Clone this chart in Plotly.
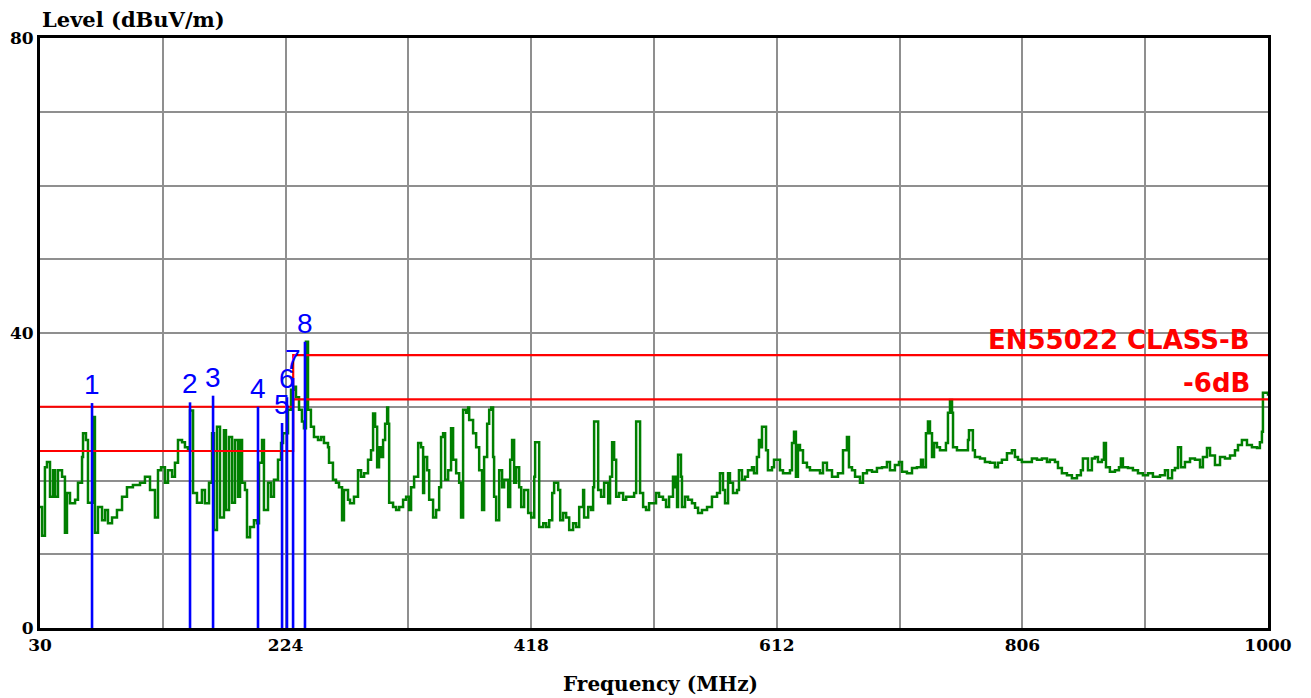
import plotly.graph_objects as go

# ---- data ----
freq_mhz = [30.0, 31.6, 33.9, 35.5, 37.9, 40.3, 41.9, 44.2, 47.4, 49.7, 51.3, 53.7, 57.7, 60.0, 63.2, 64.0, 66.3, 67.9,
            71.9, 73.4, 75.8, 79.0, 81.4, 83.7, 86.9, 90.8, 94.8, 98.7, 103.4, 109.0, 112.9, 116.9, 120.8, 123.2, 125.6,
            128.7, 131.1, 134.3, 136.6, 139.0, 142.2, 144.5, 146.9, 148.5, 150.9, 154.0, 157.9, 160.3, 163.5, 165.9,
            167.4, 169.8, 172.2, 175.3, 176.9, 179.3, 181.7, 184.0, 186.4, 188.0, 189.6, 191.9, 193.5, 195.9, 199.0,
            201.4, 203.0, 205.4, 206.9, 210.1, 212.5, 214.8, 218.0, 220.4, 222.0, 225.9, 228.3, 230.6, 232.2, 234.6,
            236.9, 238.5, 240.1, 241.7, 244.0, 246.4, 249.6, 252.0, 254.3, 257.5, 258.3, 261.4, 263.8, 266.2, 268.6,
            270.1, 273.3, 274.9, 278.0, 281.2, 283.6, 286.0, 289.1, 291.5, 293.1, 294.7, 296.3, 297.8, 299.4, 301.0,
            302.6, 304.2, 305.0, 305.8, 308.9, 311.3, 313.7, 316.8, 319.2, 321.6, 323.1, 325.5, 328.7, 331.0, 332.6,
            333.4, 335.8, 337.4, 340.5, 342.9, 345.3, 346.8, 348.4, 350.0, 352.4, 354.7, 356.3, 358.7, 361.1, 362.6,
            364.2, 366.6, 368.2, 369.0, 372.1, 374.5, 376.9, 379.2, 380.8, 383.2, 384.8, 386.4, 387.9, 388.7, 390.3,
            392.7, 395.0, 396.6, 399.8, 401.4, 402.9, 404.5, 406.1, 408.5, 410.1, 412.4, 415.6, 418.0, 420.4, 421.1,
            423.5, 424.3, 427.5, 429.8, 432.2, 434.6, 436.1, 439.3, 440.9, 443.2, 445.6, 448.0, 451.1, 453.5, 455.9,
            459.0, 459.8, 463.0, 465.3, 466.9, 467.7, 470.1, 470.9, 473.2, 475.6, 478.8, 480.3, 481.9, 483.5, 485.1,
            487.4, 490.6, 493.0, 496.9, 499.3, 500.9, 503.2, 504.0, 506.4, 508.7, 511.1, 514.3, 516.6, 519.0, 522.1,
            524.5, 526.9, 530.0, 531.6, 532.4, 533.2, 534.0, 536.3, 537.1, 539.5, 541.9, 545.0, 547.4, 549.8, 552.9,
            556.9, 560.8, 564.8, 567.1, 569.5, 571.1, 573.5, 575.0, 577.4, 580.6, 582.1, 584.5, 586.9, 589.2, 592.4,
            594.0, 596.3, 597.9, 599.5, 600.3, 602.7, 603.5, 605.0, 608.2, 609.8, 612.1, 614.5, 616.9, 620.0, 622.4,
            624.0, 625.6, 627.1, 628.7, 630.3, 632.7, 635.8, 638.2, 642.1, 646.1, 648.5, 651.6, 655.6, 658.0, 660.3,
            663.5, 664.3, 666.6, 667.4, 669.0, 671.4, 673.8, 677.7, 680.1, 683.2, 687.2, 691.1, 695.1, 699.0, 701.4,
            705.3, 708.5, 710.9, 714.8, 718.8, 722.7, 725.9, 727.5, 729.8, 731.4, 733.0, 734.6, 736.2, 738.5, 740.9,
            743.3, 745.6, 747.2, 748.8, 750.4, 751.2, 754.3, 758.3, 761.4, 763.0, 763.8, 766.2, 766.9, 768.5, 772.5,
            776.4, 780.4, 784.3, 786.7, 789.8, 793.8, 797.7, 800.1, 802.5, 805.6, 809.6, 813.5, 817.5, 821.4, 825.4,
            827.7, 831.7, 834.1, 837.2, 841.2, 845.1, 849.1, 852.2, 853.8, 856.2, 857.8, 860.9, 863.3, 865.7, 868.8,
            870.4, 872.0, 875.1, 879.1, 882.3, 883.8, 885.4, 889.4, 893.3, 897.3, 901.2, 905.2, 909.1, 913.1, 914.7,
            918.6, 921.0, 924.2, 926.5, 928.9, 931.3, 934.4, 938.4, 942.3, 946.3, 948.6, 951.8, 954.2, 958.1, 962.1,
            966.0, 970.0, 973.9, 976.3, 979.4, 983.4, 987.3, 991.3, 993.6, 995.2, 996.0, 997.6, 1000.0]
level_dbuv = [16.4, 12.5, 21.8, 22.5, 17.8, 21.4, 17.8, 21.4, 20.5, 12.9, 18.3, 16.9, 17.4, 19.7, 23.2, 26.4, 25.5, 17.0,
              28.6, 12.9, 16.4, 14.6, 16.0, 14.2, 15.0, 16.0, 17.8, 19.1, 19.4, 19.7, 20.5, 18.7, 15.0, 21.4, 21.8,
              19.7, 21.4, 20.5, 22.4, 25.5, 25.2, 24.5, 24.1, 29.5, 18.3, 17.0, 18.7, 16.9, 19.7, 26.4,
              13.3, 27.3, 15.0, 26.8, 16.0, 25.9, 17.0, 25.5, 17.8, 25.5, 19.7, 18.7, 12.3, 13.7, 14.6,
              14.2, 22.4, 25.5, 16.0, 19.7, 17.8, 20.1, 22.8, 25.1, 26.4, 29.6, 32.3, 32.7, 31.3, 29.6,
              28.0, 27.1, 38.8, 29.6, 27.3, 25.9, 25.5, 25.9, 25.1, 24.5, 22.4, 20.1, 19.7, 19.1, 14.6,
              18.7, 17.4, 16.9, 17.8, 21.4, 20.5, 21.0, 22.8, 24.1, 29.1, 27.3, 21.8, 24.5, 23.2, 25.5,
              27.7, 29.9, 27.7, 17.0, 16.4, 16.0, 16.4, 17.4, 17.8, 16.0, 19.1, 20.5, 25.1, 24.5, 18.3,
              23.2, 21.4, 17.4, 15.0, 16.0, 19.1, 25.9, 26.4, 20.1, 21.4, 27.1, 22.8, 21.0, 19.7, 15.0,
              29.6, 29.2, 29.9, 28.2, 26.4, 24.5, 21.4, 16.0, 23.2, 27.7, 29.6, 29.9, 23.2, 17.8, 14.6,
              21.4, 19.1, 20.1, 16.4, 22.8, 25.5, 19.7, 21.8, 19.1, 16.4, 18.7, 15.6, 15.0, 20.5, 25.2,
              25.2, 13.7, 14.2, 13.7, 14.6, 18.3, 19.7, 18.7, 14.6, 15.6, 15.0, 13.3, 14.2, 13.7, 16.4,
              18.7, 15.0, 16.4, 16.0, 19.1, 28.0, 28.0, 18.7, 17.8, 19.7, 16.9, 20.5, 25.2, 22.8, 17.8,
              18.3, 17.4, 17.8, 17.8, 18.3, 28.0, 28.0, 18.3, 16.4, 16.0, 16.9, 16.9, 18.3, 17.8, 17.4,
              16.4, 17.8, 20.5, 19.1, 20.5, 16.4, 23.5, 20.5, 16.4, 17.8, 17.4, 16.9, 16.3, 15.6, 16.0,
              16.4, 17.8, 18.3, 21.0, 18.7, 16.9, 21.0, 19.7, 18.3, 18.7, 21.4, 20.1, 20.5, 21.4, 21.8,
              21.0, 23.2, 25.5, 24.5, 27.3, 27.3, 24.1, 21.4, 21.8, 22.8, 22.8, 21.4, 21.0, 21.0, 21.4,
              25.1, 26.6, 20.5, 24.8, 24.1, 22.4, 21.8, 21.4, 21.4, 21.0, 22.4, 21.4, 20.5, 20.5, 21.0,
              21.0, 24.1, 24.1, 25.9, 21.8, 21.4, 20.5, 19.7, 21.0, 21.4, 21.2, 21.7, 21.8, 22.5, 21.4,
              22.1, 22.5, 21.2, 21.0, 21.7, 21.8, 22.8, 21.8, 26.4, 28.0, 26.4, 23.2, 25.1, 24.5, 24.1,
              24.1, 25.1, 29.2, 30.9, 29.2, 24.5, 24.1, 24.1, 24.1, 25.5, 26.8, 26.8, 24.1, 23.2, 23.0,
              22.5, 22.4, 21.8, 22.4, 22.8, 23.7, 24.1, 23.2, 22.8, 22.5, 22.5, 23.0, 22.8, 23.0, 22.5,
              22.8, 22.5, 21.7, 21.0, 20.7, 20.3, 20.7, 21.4, 23.0, 23.0, 21.4, 23.0, 23.2, 22.5, 22.8,
              25.1, 21.8, 21.2, 21.4, 21.8, 23.0, 21.8, 21.7, 21.4, 21.0, 20.7, 21.0, 20.5, 20.5, 20.7,
              21.4, 20.3, 21.4, 21.7, 24.5, 21.8, 22.5, 23.0, 22.8, 21.8, 23.2, 24.4, 23.4, 22.1, 23.2,
              23.0, 23.4, 24.1, 24.8, 25.5, 24.8, 24.5, 24.4, 25.2, 26.6, 31.9, 31.9, 31.5]

marker_freq = [71.1, 148.5, 166.7, 202.2, 221.2, 225.1, 229.9, 239.3]
marker_level = [30.5, 30.6, 31.5, 30.0, 27.8, 31.3, 33.9, 38.8]
marker_labels = ["1", "2", "3", "4", "5", "6", "7", "8"]

limit_freq = [30, 230, 230, 1000]
limit_level = [30, 30, 37, 37]
limit_6db_level = [24, 24, 31, 31]
limit_name = "EN55022 CLASS-B"
limit_6db_name = "-6dB"

x_grid = [30, 127, 224, 321, 418, 515, 612, 709, 806, 903, 1000]
x_tick_text = ["30", "", "224", "", "418", "", "612", "", "806", "", "1000"]
y_grid = [0, 10, 20, 30, 40, 50, 60, 70, 80]
y_tick_text = ["0", "", "", "", "40", "", "", "", "80"]

# ---- figure ----
fig = go.Figure()

fig.add_trace(go.Scatter(x=freq_mhz, y=level_dbuv, mode="lines", line=dict(color="#007f00", width=2.5, shape="hv"),
                         showlegend=False, hoverinfo="skip"))
fig.add_trace(go.Scatter(x=limit_freq, y=limit_level, mode="lines", line=dict(color="#ff0000", width=2.2),
                         showlegend=False, hoverinfo="skip"))
fig.add_trace(go.Scatter(x=limit_freq, y=limit_6db_level, mode="lines", line=dict(color="#ff0000", width=2.2),
                         showlegend=False, hoverinfo="skip"))

mx, my = [], []
for f, l in zip(marker_freq, marker_level):
    mx += [f, f, None]
    my += [0, l, None]
fig.add_trace(go.Scatter(x=mx, y=my, mode="lines", line=dict(color="#0000ff", width=2.6),
                         showlegend=False, hoverinfo="skip"))

for f, l, t in zip(marker_freq, marker_level, marker_labels):
    fig.add_annotation(x=f, y=l, text=t, showarrow=False, yanchor="bottom", xanchor="center",
                       font=dict(family="Liberation Sans", size=28, color="#0000ff"), yshift=1)

fig.add_annotation(x=0.987, xref="paper", y=limit_level[-1] + 2.0, yref="y", text=limit_name, showarrow=False,
                   xanchor="right", yanchor="middle",
                   font=dict(family="DejaVu Sans", size=26, color="#ff0000", weight="bold"))
fig.add_annotation(x=0.987, xref="paper", y=limit_6db_level[-1] + 2.2, yref="y", text=limit_6db_name, showarrow=False,
                   xanchor="right", yanchor="middle",
                   font=dict(family="DejaVu Sans", size=26, color="#ff0000", weight="bold"))

fig.add_annotation(x=0, xref="paper", y=1, yref="paper", text="Level (dBuV/m)", showarrow=False,
                   xanchor="left", yanchor="bottom", yshift=4,
                   font=dict(family="DejaVu Serif", size=21, color="black", weight="bold"))
fig.add_annotation(x=0.505, xref="paper", y=0, yref="paper", text="Frequency (MHz)", showarrow=False,
                   xanchor="center", yanchor="top", yshift=-42,
                   font=dict(family="DejaVu Serif", size=20, color="black", weight="bold"))

axis_font = dict(family="DejaVu Serif", size=17, color="black", weight="bold")
fig.update_xaxes(range=[30, 1000], tickmode="array", tickvals=x_grid, ticktext=x_tick_text,
                 showgrid=True, gridcolor="#8f8f8f", gridwidth=1.5, zeroline=False, automargin=False,
                 showline=True, mirror=True, linecolor="black", linewidth=3, ticks="", tickfont=axis_font)
fig.update_yaxes(range=[0, 80], tickmode="array", tickvals=y_grid, ticktext=y_tick_text,
                 showgrid=True, gridcolor="#8f8f8f", gridwidth=1.5, zeroline=False, automargin=False,
                 showline=True, mirror=True, linecolor="black", linewidth=3, ticks="", tickfont=axis_font)

# the page body adds an 8 px offset, so the figure is 8 px smaller and margins compensate
fig.update_layout(width=1303, height=690, margin=dict(l=32, r=43, t=30, b=70),
                  plot_bgcolor="white", paper_bgcolor="white")

fig.write_html("out.html")
